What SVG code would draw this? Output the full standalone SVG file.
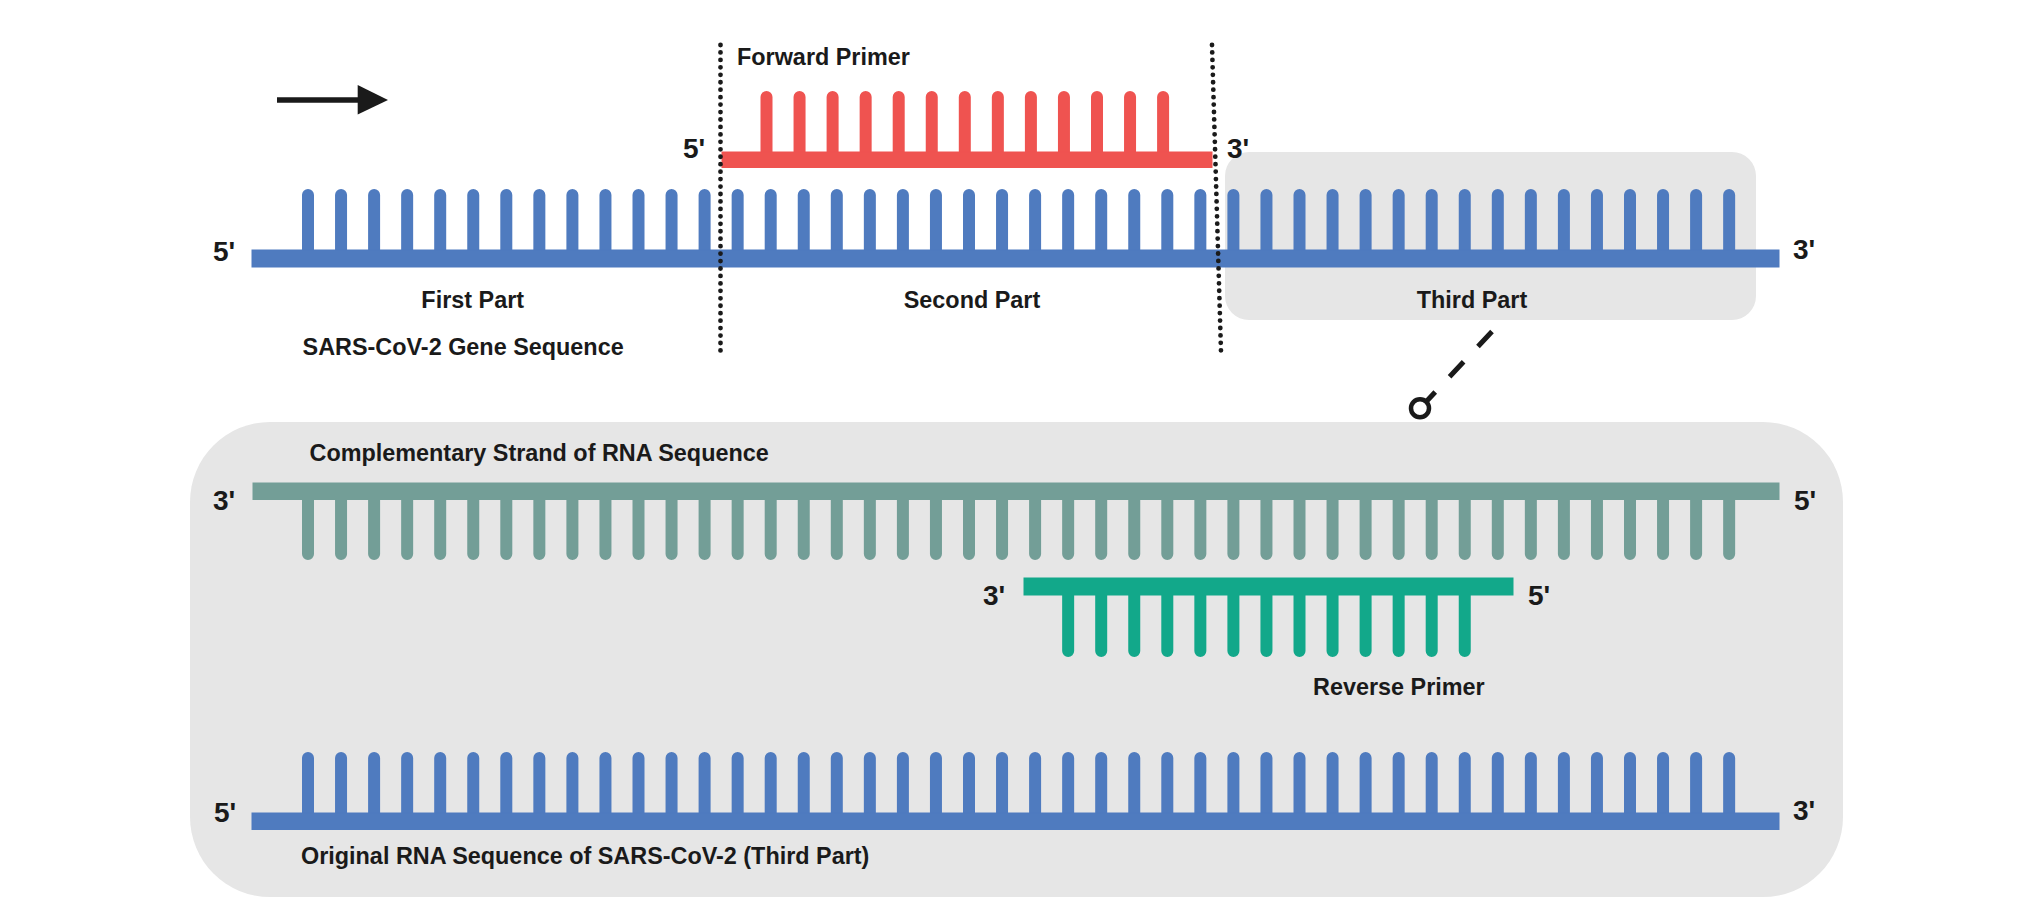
<svg xmlns="http://www.w3.org/2000/svg" xmlns:xlink="http://www.w3.org/1999/xlink" width="2028" height="924" viewBox="0 0 2028 924">
<style>
.lbl{font-family:"Liberation Sans",Arial,Helvetica,sans-serif;font-weight:bold;font-size:23.4px;fill:#1a1a1a}
.end{font-size:28px}
.box{fill:#e6e6e6}
.dots{fill:none;stroke:#1a1a1a;stroke-width:4.8;stroke-linecap:round;stroke-dasharray:0 7.45}
.blue{fill:#4f7bbf;stroke:#4f7bbf}
.red{fill:#ef5350;stroke:#ef5350}
.comp{fill:#739e97;stroke:#739e97}
.rev{fill:#12a88a;stroke:#12a88a}
.teeth{fill:none;stroke-width:12;stroke-linecap:round}
</style>
<defs>
<path id="comb44" d="M308 0V-63M341.05 0V-63M374.1 0V-63M407.15 0V-63M440.2 0V-63M473.25 0V-63M506.3 0V-63M539.35 0V-63M572.4 0V-63M605.45 0V-63M638.5 0V-63M671.55 0V-63M704.6 0V-63M737.65 0V-63M770.7 0V-63M803.75 0V-63M836.8 0V-63M869.85 0V-63M902.9 0V-63M935.95 0V-63M969 0V-63M1002.05 0V-63M1035.1 0V-63M1068.15 0V-63M1101.2 0V-63M1134.25 0V-63M1167.3 0V-63M1200.35 0V-63M1233.4 0V-63M1266.45 0V-63M1299.5 0V-63M1332.55 0V-63M1365.6 0V-63M1398.65 0V-63M1431.7 0V-63M1464.75 0V-63M1497.8 0V-63M1530.85 0V-63M1563.9 0V-63M1596.95 0V-63M1630 0V-63M1663.05 0V-63M1696.1 0V-63M1729.15 0V-63"/>
</defs>
<rect width="2028" height="924" fill="#ffffff"/>

<g id="third-part-box">
<rect class="box" x="1225" y="152" width="531" height="168" rx="24"/>
<text class="lbl" x="1472" y="308" text-anchor="middle">Third Part</text>
</g>

<g id="zoom-box">
<rect class="box" x="190" y="422" width="1653" height="475" rx="80"/>
</g>

<g id="direction-arrow">
<line x1="277" y1="100" x2="360" y2="100" stroke="#1a1a1a" stroke-width="5.5"/>
<polygon points="357.7,85 388,100 357.7,114.5" fill="#1a1a1a"/>
</g>

<g id="top-strand">
<g class="blue teeth"><use xlink:href="#comb44" transform="translate(0,258)"/></g>
<rect class="blue" x="252" y="250" width="1527" height="17" stroke="none"/>
<text class="lbl end" x="213" y="261">5'</text>
<text class="lbl end" x="1793" y="259">3'</text>
<text class="lbl" x="472.7" y="308" text-anchor="middle">First Part</text>
<text class="lbl" x="972" y="308" text-anchor="middle">Second Part</text>
<text class="lbl" x="302.6" y="355">SARS-CoV-2 Gene Sequence</text>
</g>

<g id="forward-primer">
<path class="red teeth" d="M766.5 159V97M799.55 159V97M832.6 159V97M865.65 159V97M898.7 159V97M931.75 159V97M964.8 159V97M997.85 159V97M1030.9 159V97M1063.95 159V97M1097 159V97M1130.05 159V97M1163.1 159V97"/>
<rect class="red" x="722" y="152" width="490" height="15.5" stroke="none"/>
<text class="lbl end" x="683" y="158">5'</text>
<text class="lbl end" x="1227" y="158">3'</text>
<text class="lbl" x="737" y="65">Forward Primer</text>
</g>

<g id="dividers">
<line class="dots" x1="720.5" y1="45" x2="720.5" y2="352"/>
<line class="dots" x1="1212" y1="45" x2="1221" y2="352"/>
</g>

<g id="complementary-strand">
<g class="comp teeth"><use xlink:href="#comb44" transform="translate(0,491) scale(1,-1)"/></g>
<rect class="comp" x="253" y="483" width="1526" height="16.5" stroke="none"/>
<text class="lbl end" x="213" y="510">3'</text>
<text class="lbl end" x="1794" y="510">5'</text>
<text class="lbl" x="309.5" y="461">Complementary Strand of RNA Sequence</text>
</g>

<g id="reverse-primer">
<path class="rev teeth" d="M1068.15 586V651M1101.2 586V651M1134.25 586V651M1167.3 586V651M1200.35 586V651M1233.4 586V651M1266.45 586V651M1299.5 586V651M1332.55 586V651M1365.6 586V651M1398.65 586V651M1431.7 586V651M1464.75 586V651"/>
<rect class="rev" x="1024" y="578" width="489" height="17" stroke="none"/>
<text class="lbl end" x="983" y="605">3'</text>
<text class="lbl end" x="1528" y="605">5'</text>
<text class="lbl" x="1313" y="695">Reverse Primer</text>
</g>

<g id="original-strand">
<g class="blue teeth"><use xlink:href="#comb44" transform="translate(0,821)"/></g>
<rect class="blue" x="252" y="813" width="1527" height="16.5" stroke="none"/>
<text class="lbl end" x="214" y="822">5'</text>
<text class="lbl end" x="1793" y="820">3'</text>
<text class="lbl" x="301" y="864">Original RNA Sequence of SARS-CoV-2 (Third Part)</text>
</g>

<g id="connectors">
<line x1="1492" y1="331.5" x2="1420" y2="408.3" stroke="#1a1a1a" stroke-width="5" stroke-dasharray="20.5 21"/>
<circle cx="1420" cy="408.3" r="9" fill="#ffffff" stroke="#1a1a1a" stroke-width="4.5"/>
</g>
</svg>
